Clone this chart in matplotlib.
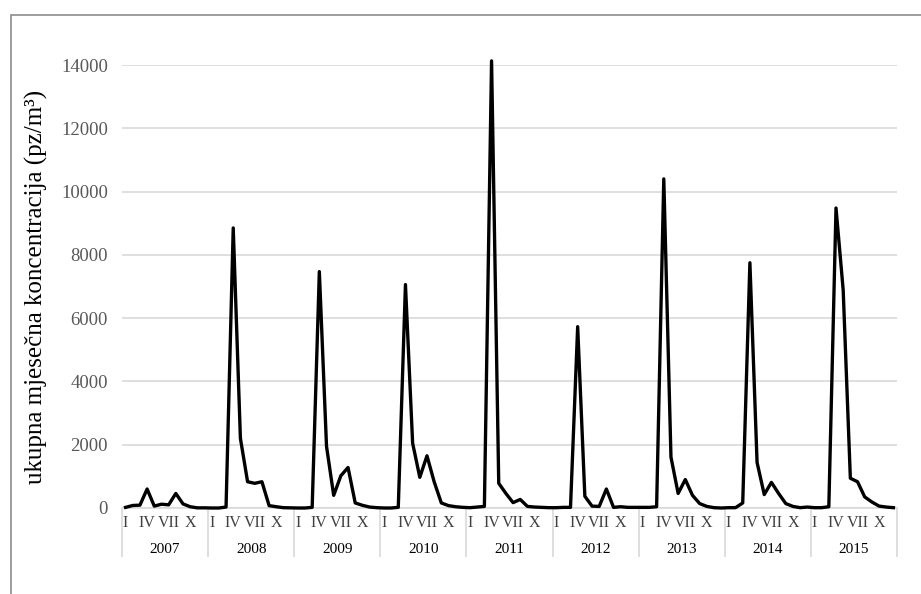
import matplotlib
matplotlib.use("Agg")
import matplotlib.pyplot as plt
import matplotlib.transforms as mtransforms
from matplotlib.patches import Rectangle
import numpy as np

plt.rcParams['font.family'] = ['Liberation Serif', 'DejaVu Serif']

# monthly total concentration, Jan..Dec for each year
years = ['2007', '2008', '2009', '2010', '2011', '2012', '2013', '2014', '2015']
values = {
    '2007': [20, 80, 90, 600, 60, 120, 100, 460, 130, 40, 5, 5],
    '2008': [0, 0, 30, 8850, 2200, 830, 780, 830, 75, 40, 10, 5],
    '2009': [0, 0, 20, 7470, 1950, 400, 1020, 1280, 160, 85, 30, 10],
    '2010': [0, 0, 20, 7060, 2050, 970, 1650, 830, 160, 75, 40, 20],
    '2011': [10, 30, 50, 14130, 780, 460, 170, 270, 50, 30, 20, 10],
    '2012': [10, 20, 20, 5730, 370, 60, 50, 600, 20, 40, 20, 20],
    '2013': [20, 20, 40, 10400, 1610, 460, 900, 400, 140, 50, 10, 0],
    '2014': [10, 10, 160, 7750, 1440, 425, 810, 460, 140, 50, 10, 30],
    '2015': [10, 10, 40, 9480, 6890, 940, 830, 350, 190, 60, 30, 10],
}
month_labels = ['I', '', '', 'IV', '', '', 'VII', '', '', 'X', '', '']
y_ticks = [0, 2000, 4000, 6000, 8000, 10000, 12000, 14000]

series = []
for y in years:
    series += values[y]
x = np.arange(len(series))

W, H = 921, 594
fig = plt.figure(figsize=(W / 100, H / 100), dpi=100)
ax = fig.add_axes([122 / W, 1 - 508 / H, (897 - 122) / W, (508 - 65) / H])

# outer chart border (left and top visible)
fig.patches.append(Rectangle((11 / W, -0.1), 1.2, 1.1 - 15 / H, transform=fig.transFigure,
                             fill=False, edgecolor='#8c8c8c', linewidth=1.2))

ax.plot(x, series, color='black', linewidth=2.4, clip_on=False, zorder=3)

ax.set_xlim(-0.5, len(series) - 0.5)
ax.set_ylim(0, 14000)
ax.set_yticks(y_ticks)
ax.set_yticklabels([str(v) for v in y_ticks], fontsize=13.5, color='#595959')
ax.tick_params(axis='y', length=0, pad=10)
ax.grid(axis='y', color='#d9d9d9', linewidth=1.2)
ax.set_axisbelow(True)
for s in ['top', 'right', 'left']:
    ax.spines[s].set_visible(False)
ax.spines['bottom'].set_color('#d9d9d9')
ax.spines['bottom'].set_linewidth(1.2)

# month labels
tick_pos = [i for i in range(len(series)) if month_labels[i % 12]]
ax.set_xticks(tick_pos)
ax.set_xticklabels([month_labels[i % 12] for i in tick_pos], fontsize=11.5, color='#404040')
ax.tick_params(axis='x', length=0, pad=5)

# year labels and separators
trans = mtransforms.blended_transform_factory(ax.transData, ax.transAxes)
for k, y in enumerate(years):
    ax.text(k * 12 + 5.5, -0.093, y, transform=trans, ha='center', va='center',
            fontsize=11, color='black')
seps = [k * 12 - 0.5 for k in range(len(years) + 1)]
ax.vlines(seps, -0.111, 0, transform=trans, colors='#d9d9d9', linewidth=1.2, clip_on=False)

ax.set_ylabel('ukupna mjesečna koncentracija (pz/m³)', fontsize=18)
ax.yaxis.set_label_coords(-(122 - 48) / (897 - 122), 0.5)

fig.savefig('out.png', dpi=100)
